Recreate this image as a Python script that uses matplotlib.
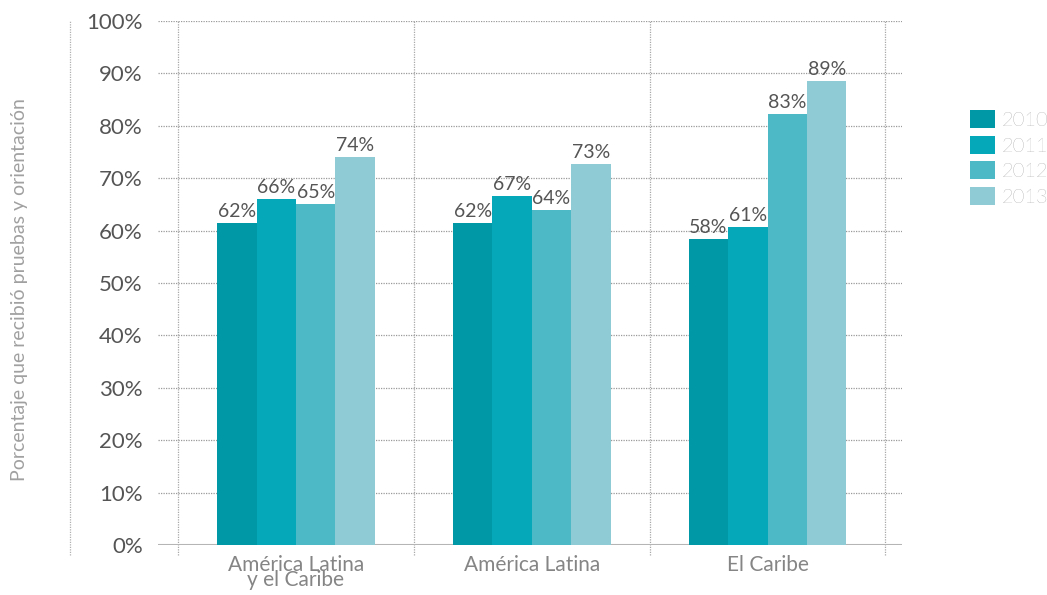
"""Bar chart: share receiving testing and counselling by region, 2010-2013."""

import matplotlib

matplotlib.use("Agg")
import matplotlib.pyplot as plt
import numpy as np
from matplotlib.ticker import FuncFormatter, MultipleLocator


regions = ["América Latina\ny el Caribe", "América Latina", "El Caribe"]
years = ["2010", "2011", "2012", "2013"]
values = {
    "2010": [61.5, 61.5, 58.4],
    "2011": [66.0, 66.6, 60.7],
    "2012": [65.1, 63.9, 82.3],
    "2013": [74.0, 72.7, 88.5],
}
labels = {
    "2010": ["62%", "62%", "58%"],
    "2011": ["66%", "67%", "61%"],
    "2012": ["65%", "64%", "83%"],
    "2013": ["74%", "73%", "89%"],
}
colors = ["#0097a7", "#05a8b8", "#4db8c6", "#8fcbd5"]

FONT = ["Lato", "DejaVu Sans"]
plt.rcParams["font.family"] = FONT

fig = plt.figure(figsize=(10.47, 5.95), dpi=100)
ax = fig.add_axes([158 / 1047, 1 - 545 / 595, 744 / 1047, 524 / 595])

x = np.arange(len(regions))
width = 0.167
for i, year in enumerate(years):
    pos = x + (i - 1.5) * width
    ax.bar(pos, values[year], width=width, color=colors[i], label=year, zorder=3)
    for px, v, txt in zip(pos, values[year], labels[year]):
        ax.text(px, v + 0.6, txt, ha="center", va="bottom", fontsize=14,
                color="#555555", zorder=4)

ax.set_ylim(0, 100)
ax.set_xlim(-0.585, 2.57)
ax.yaxis.set_major_locator(MultipleLocator(10))
ax.yaxis.set_major_formatter(FuncFormatter(lambda v, _: f"{v:.0f}%"))
ax.grid(axis="y", linestyle=(0, (1, 1)), color="#9a9a9a", linewidth=0.9, zorder=0)

# category separators, running a little below the baseline
for b in np.arange(-0.5, len(regions), 1.0):
    ax.axvline(b, ymin=-0.02, ymax=1, linestyle=(0, (1, 1)), color="#a8a8a8",
               linewidth=0.9, clip_on=False, zorder=0)
ax.axhline(0, color="#b5b5b5", linewidth=2.2, zorder=2)

# detached dotted axis line at the far left
ax.plot([-0.118, -0.118], [-0.02, 1.0], transform=ax.transAxes, clip_on=False,
        linestyle=(0, (1, 1)), color="#b0b0b0", linewidth=0.9)

ax.set_xticks(x)
ax.set_xticklabels(regions, fontsize=15, color="#858585", linespacing=0.72)
ax.tick_params(axis="x", length=0, pad=7)
ax.tick_params(axis="y", length=0, pad=11, labelsize=16, labelcolor="#555555")

for side in ["top", "right", "bottom", "left"]:
    ax.spines[side].set_visible(False)

fig.text(20 / 1047, 1 - 290 / 595, "Porcentaje que recibió pruebas y orientación",
         rotation=90, ha="center", va="center", fontsize=14, color="#a0a0a0")

leg = ax.legend(loc="upper left", bbox_to_anchor=(1.08, 0.845), frameon=False,
                fontsize=14.5, handlelength=1.25, handleheight=1.0,
                handletextpad=0.35, labelspacing=0.28, borderaxespad=0)
for t in leg.get_texts():
    t.set_color("#7a7a7a")
    t.set_fontweight("light")

fig.savefig("out.png", dpi=100)
